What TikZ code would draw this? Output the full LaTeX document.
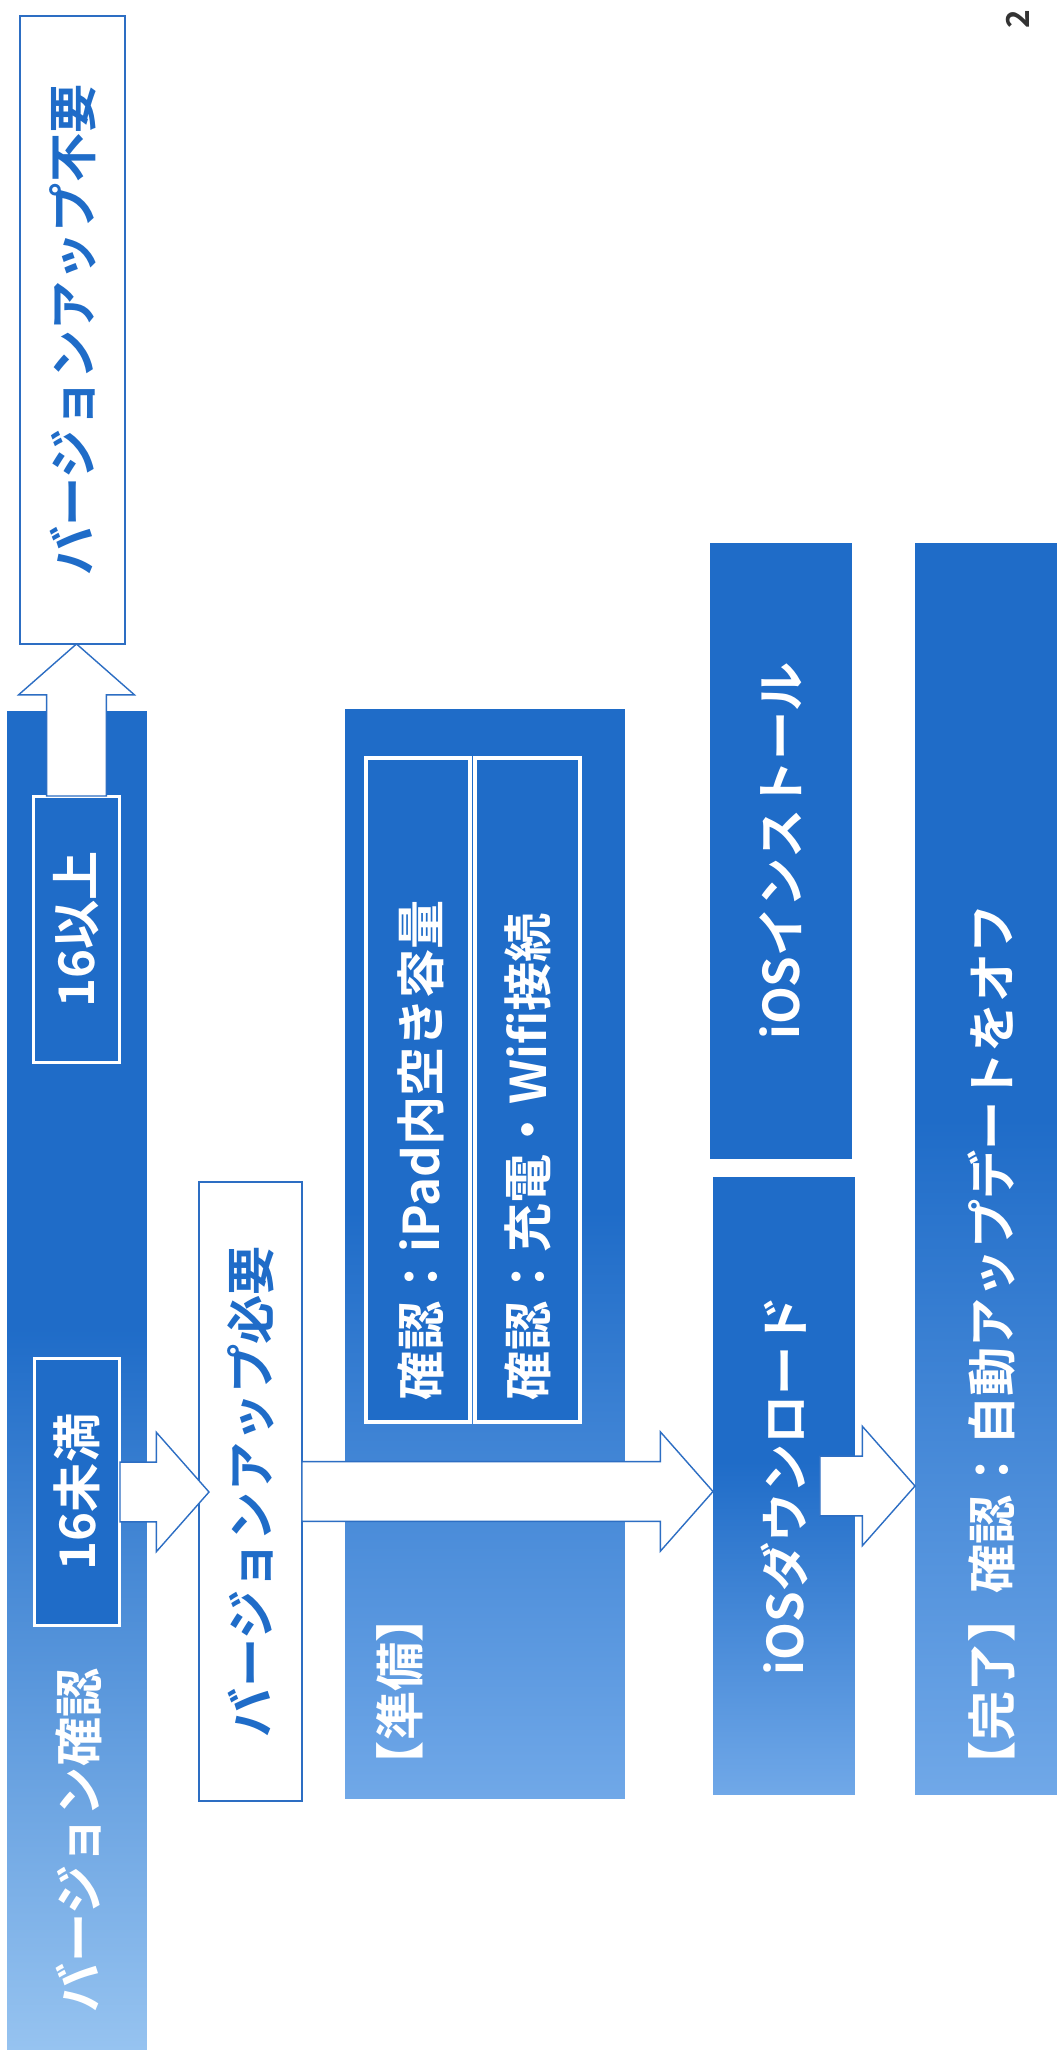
\documentclass[tikz,border=0pt]{standalone}
\usepackage{fontspec}
\setmainfont{Noto Sans CJK JP}[BoldFont={Noto Sans CJK JP Bold}]
\usetikzlibrary{calc}

\definecolor{darkb}{RGB}{31,108,200}
\definecolor{lightb}{RGB}{150,195,240}
\definecolor{softb}{RGB}{112,168,232}
\definecolor{lineb}{RGB}{45,110,195}
\pgfdeclareverticalshading{bluefade}{100bp}{color(0bp)=(lightb); color(25bp)=(lightb); color(52bp)=(darkb); color(100bp)=(darkb)}
\pgfdeclareverticalshading{softfade}{100bp}{color(0bp)=(softb); color(25bp)=(softb); color(52bp)=(darkb); color(100bp)=(darkb)}

\tikzset{
  fadebox/.style={shading=bluefade, draw=none},
  softbox/.style={shading=softfade, draw=none},
  darkbox/.style={fill=darkb, draw=none},
  framebox/.style={fill=darkb, draw=white, line width=1.7pt},
  cellbox/.style={fill=darkb, draw=white, line width=2.6pt},
  whitebox/.style={fill=white, draw=lineb, line width=0.9pt},
  txt/.style={rotate=90, text=white},
  fatarrow/.style={fill=white, draw=lineb, line width=0.8pt, line join=miter}
}

\newcommand{\fatright}[2]{%
  \draw[fatarrow] let \p1=(#1), \p2=(#2) in
    ({\x1},{\y1+17pt}) -- ({\x2-30pt},{\y1+17pt}) -- ({\x2-30pt},{\y1+34pt}) -- ({\x2},{\y1})
    -- ({\x2-30pt},{\y1-34pt}) -- ({\x2-30pt},{\y1-17pt}) -- ({\x1},{\y1-17pt}) -- cycle;}
\newcommand{\fatup}[2]{%
  \draw[fatarrow] let \p1=(#1), \p2=(#2) in
    ({\x1-17pt},{\y1}) -- ({\x1-17pt},{\y2-29pt}) -- ({\x1-33pt},{\y2-29pt}) -- ({\x1},{\y2})
    -- ({\x1+33pt},{\y2-29pt}) -- ({\x1+17pt},{\y2-29pt}) -- ({\x1+17pt},{\y1}) -- cycle;}

\begin{document}
\begin{tikzpicture}[x=0.02cm, y=-0.02cm,
  every node/.style={inner sep=0pt, outer sep=0pt, font=\bfseries\fontsize{28}{30}\selectfont}]
\useasboundingbox[fill=white] (0,0) rectangle (1057,2064);

% boxes
\node[fadebox, minimum width=2.8cm, minimum height=26.78cm] (ver) at (77,1380.5) {};
\node[framebox, minimum width=1.74cm, minimum height=5.34cm] (hi16) at (76.5,929.5) {};
\node[framebox, minimum width=1.72cm, minimum height=5.36cm] (lo16) at (77,1492) {};
\node[whitebox, minimum width=2.1cm, minimum height=12.56cm] (nogo) at (72.5,330) {};
\node[whitebox, minimum width=2.06cm, minimum height=12.38cm] (need) at (250.5,1491.5) {};
\node[softbox, minimum width=5.6cm, minimum height=21.8cm] (prep) at (485,1254) {};
\node[cellbox, minimum width=2.08cm, minimum height=13.28cm] (cellA) at (418,1090) {};
\node[cellbox, minimum width=2.1cm, minimum height=13.28cm] (cellB) at (527.5,1090) {};
\node[darkbox, minimum width=2.84cm, minimum height=12.32cm] (inst) at (781,851) {};
\node[softbox, minimum width=2.84cm, minimum height=12.36cm] (dl) at (784,1486) {};
\node[softbox, minimum width=2.84cm, minimum height=25.04cm] (done) at (986,1169) {};

% arrows
\fatup{hi16.north}{nogo.south}
\coordinate (needin) at ($(need.west)+(10,0)$);
\fatright{lo16.east}{needin}
\fatright{need.east}{dl.west}
\coordinate (dlout) at ($(dl.east)+(-35,0)$);
\fatright{dlout}{done.west}

% labels
\node[txt, anchor=west] (tver) at (79,2012) {バージョン確認};
\node[txt] (thi) at (hi16) {16以上};
\node[txt] (tlo) at (lo16) {16未満};
\node[txt, text=darkb] (tnogo) at (nogo) {バージョンアップ不要};
\node[txt, text=darkb] (tneed) at (need) {バージョンアップ必要};
\node[txt, anchor=west] (tprep) at (400,1790) {【準備】};
\node[txt, anchor=west] (tA) at (421,1400) {確認：iPad内空き容量};
\node[txt, anchor=west] (tB) at (528,1400) {確認：充電・Wifi接続};
\node[txt] (tinst) at (inst) {iOSインストール};
\node[txt] (tdl) at (dl) {iOSダウンロード};
\node[txt, anchor=west] (tdone) at (991,1790) {【完了】確認：自動アップデートをオフ};
\node[rotate=90, text=black!80, font=\bfseries\fontsize{18}{20}\selectfont] (pg) at (1018,19) {2};
\end{tikzpicture}
\end{document}
